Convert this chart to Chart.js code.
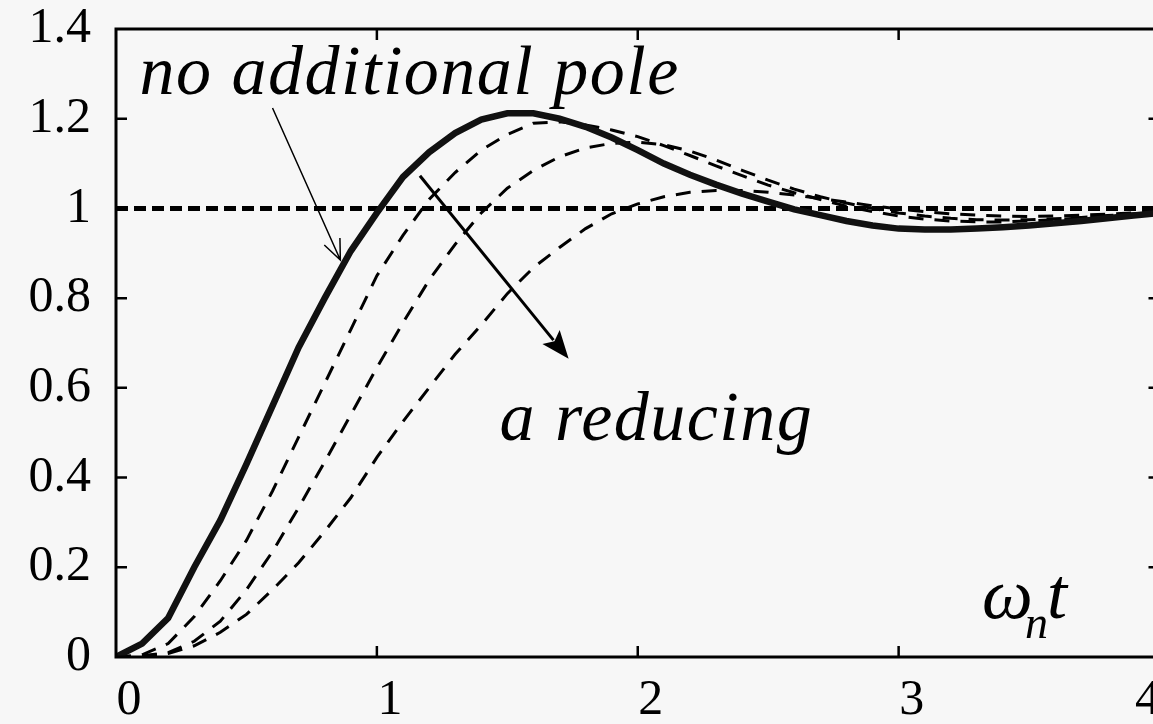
<!DOCTYPE html>
<html>
<head>
<meta charset="utf-8">
<script src="https://cdn.jsdelivr.net/npm/chart.js@4"></script>
<style>
  html, body { margin: 0; padding: 0; background: #f7f7f7; overflow: hidden; }
  #wrap { width: 1153px; height: 724px; overflow: hidden; position: relative; }
  canvas { display: block; position: absolute; left: 0; top: -16px; }
</style>
</head>
<body>
<div id="wrap"><canvas id="stepChart" width="1203" height="740"></canvas></div>
<script>
// time axis (omega_n * t)
const wnT = [0, 0.1, 0.2, 0.3, 0.4, 0.5, 0.6, 0.7, 0.8, 0.9,
             1.0, 1.1, 1.2, 1.3, 1.4, 1.5, 1.6, 1.7, 1.8, 1.9,
             2.0, 2.1, 2.2, 2.3, 2.4, 2.5, 2.6, 2.7, 2.8, 2.9,
             3.0, 3.1, 3.2, 3.3, 3.4, 3.5, 3.6, 3.7, 3.8, 3.9, 4.0];

// step response, no additional pole (solid)
const noPole = [0, 0.03, 0.087, 0.2, 0.305, 0.43, 0.56, 0.69, 0.80, 0.905,
                0.99, 1.07, 1.125, 1.168, 1.198, 1.212, 1.212, 1.2, 1.182, 1.158,
                1.13, 1.1, 1.075, 1.053, 1.033, 1.015, 0.998, 0.985, 0.972, 0.962,
                0.955, 0.953, 0.953, 0.955, 0.958, 0.962, 0.967, 0.972, 0.978, 0.984, 0.99];

// with additional pole, a reducing (dashed)
const poleA1 = [0, 0.005, 0.03, 0.09, 0.17, 0.26, 0.37, 0.49, 0.61, 0.73,
                0.85, 0.94, 1.02, 1.08, 1.13, 1.165, 1.19, 1.193, 1.186, 1.175,
                1.16, 1.14, 1.118, 1.095, 1.073, 1.052, 1.035, 1.02, 1.005, 0.993,
                0.983, 0.976, 0.972, 0.97, 0.97, 0.972, 0.975, 0.979, 0.983, 0.987, 0.99];
const poleA2 = [0, 0.002, 0.01, 0.035, 0.08, 0.15, 0.235, 0.333, 0.435, 0.54,
                0.645, 0.745, 0.84, 0.92, 0.99, 1.045, 1.085, 1.115, 1.135, 1.145,
                1.148, 1.142, 1.128, 1.108, 1.085, 1.063, 1.043, 1.026, 1.012, 1.0,
                0.99, 0.983, 0.978, 0.975, 0.974, 0.975, 0.977, 0.98, 0.984, 0.988, 0.992];
const poleA3 = [0, 0.002, 0.008, 0.025, 0.055, 0.095, 0.15, 0.21, 0.28, 0.355,
                0.445, 0.525, 0.60, 0.675, 0.74, 0.81, 0.868, 0.913, 0.955, 0.988,
                1.01, 1.026, 1.036, 1.04, 1.04, 1.036, 1.03, 1.022, 1.014, 1.006,
                0.999, 0.993, 0.988, 0.985, 0.983, 0.982, 0.983, 0.985, 0.987, 0.99, 0.993];

// steady state reference
const refX = [0, 4];
const refY = [1, 1];

// last label carries a trailing em space so its visible glyph sits left of the cut edge
const xTickLabels = ['0', '1', '2', '3', '4\u2003'];
const yTickLabels = ['0', '0.2', '0.4', '0.6', '0.8', '1', '1.2', '1.4'];

const toPoints = (xs, ys) => xs.map((x, i) => ({ x: x, y: ys[i] }));

// annotation placement in data units
const notes = {
  noPoleText: { x: 0.09, y: 1.255, text: 'no additional pole' },
  reduceText: { x: 1.47, y: 0.483, text: 'a reducing' },
  axisText: { x: 3.32, y: 0.087 },
  thinArrow: { x0: 0.60, y0: 1.224, x1: 0.86, y1: 0.885 },
  boldArrow: { x0: 1.165, y0: 1.073, x1: 1.735, y1: 0.665 }
};

const serif = '"Liberation Serif", "Times New Roman", serif';

const framePlugin = {
  id: 'frame',
  afterDatasetsDraw(chart) {
    const { ctx, chartArea: a, scales } = chart;
    const xs = scales.x, ys = scales.y;
    const tk = 11;
    ctx.save();
    ctx.strokeStyle = '#000';
    ctx.lineWidth = 3;
    ctx.strokeRect(a.left, a.top, a.right - a.left, a.bottom - a.top);
    ctx.lineWidth = 2.5;
    ctx.beginPath();
    for (let v = 1; v < 4; v++) {
      const px = xs.getPixelForValue(v);
      ctx.moveTo(px, a.bottom); ctx.lineTo(px, a.bottom - tk);
      ctx.moveTo(px, a.top); ctx.lineTo(px, a.top + tk);
    }
    for (let i = 1; i < 7; i++) {
      const py = ys.getPixelForValue(i * 0.2);
      ctx.moveTo(a.left, py); ctx.lineTo(a.left + tk, py);
      ctx.moveTo(a.right, py); ctx.lineTo(a.right - tk, py);
    }
    ctx.stroke();

    // text labels
    ctx.fillStyle = '#000';
    ctx.textBaseline = 'alphabetic';
    ctx.textAlign = 'left';
    ctx.font = 'italic 70px ' + serif;
    ctx.letterSpacing = '1.5px';
    let n = notes.noPoleText;
    ctx.fillText(n.text, xs.getPixelForValue(n.x), ys.getPixelForValue(n.y));
    n = notes.reduceText;
    ctx.fillText(n.text, xs.getPixelForValue(n.x), ys.getPixelForValue(n.y));
    ctx.letterSpacing = '0px';

    const ax = xs.getPixelForValue(notes.axisText.x);
    const ay = ys.getPixelForValue(notes.axisText.y);
    ctx.font = 'italic 72px ' + serif;
    ctx.fillText('ω', ax, ay);
    const wW = ctx.measureText('ω').width;
    ctx.font = 'italic 46px ' + serif;
    ctx.fillText('n', ax + wW - 8, ay + 20);
    ctx.font = 'italic 72px ' + serif;
    ctx.fillText('t', ax + wW + 14, ay);

    // thin arrow with open head
    let r = notes.thinArrow;
    let x0 = xs.getPixelForValue(r.x0), y0 = ys.getPixelForValue(r.y0);
    let x1 = xs.getPixelForValue(r.x1), y1 = ys.getPixelForValue(r.y1);
    let ang = Math.atan2(y1 - y0, x1 - x0);
    ctx.lineWidth = 1.5;
    ctx.beginPath();
    ctx.moveTo(x0, y0); ctx.lineTo(x1, y1);
    ctx.moveTo(x1 - 22 * Math.cos(ang - 0.4), y1 - 22 * Math.sin(ang - 0.4));
    ctx.lineTo(x1, y1);
    ctx.lineTo(x1 - 22 * Math.cos(ang + 0.4), y1 - 22 * Math.sin(ang + 0.4));
    ctx.stroke();

    // bold arrow with filled head
    r = notes.boldArrow;
    x0 = xs.getPixelForValue(r.x0); y0 = ys.getPixelForValue(r.y0);
    x1 = xs.getPixelForValue(r.x1); y1 = ys.getPixelForValue(r.y1);
    ang = Math.atan2(y1 - y0, x1 - x0);
    const hl = 30;
    ctx.lineWidth = 3;
    ctx.beginPath();
    ctx.moveTo(x0, y0);
    ctx.lineTo(x1 - hl * 0.8 * Math.cos(ang), y1 - hl * 0.8 * Math.sin(ang));
    ctx.stroke();
    ctx.beginPath();
    ctx.moveTo(x1, y1);
    ctx.lineTo(x1 - hl * Math.cos(ang - 0.38), y1 - hl * Math.sin(ang - 0.38));
    ctx.lineTo(x1 - hl * 0.75 * Math.cos(ang), y1 - hl * 0.75 * Math.sin(ang));
    ctx.lineTo(x1 - hl * Math.cos(ang + 0.38), y1 - hl * Math.sin(ang + 0.38));
    ctx.closePath();
    ctx.fill();
    ctx.restore();
  }
};

const dashedStyle = { borderColor: '#000', borderWidth: 3, borderDash: [15, 11], pointRadius: 0, tension: 0, fill: false };

new Chart(document.getElementById('stepChart').getContext('2d'), {
  type: 'line',
  data: {
    datasets: [
      Object.assign({ label: 'a3', data: toPoints(wnT, poleA3), order: 4 }, dashedStyle),
      Object.assign({ label: 'a2', data: toPoints(wnT, poleA2), order: 3 }, dashedStyle),
      Object.assign({ label: 'a1', data: toPoints(wnT, poleA1), order: 2 }, dashedStyle),
      { label: 'steady', data: toPoints(refX, refY), borderColor: '#000', borderWidth: 5,
        borderDash: [12, 6], pointRadius: 0, order: 1 },
      { label: 'no additional pole', data: toPoints(wnT, noPole), borderColor: '#111',
        borderWidth: 6.5, pointRadius: 0, tension: 0, order: 0 }
    ]
  },
  options: {
    responsive: false,
    animation: false,
    layout: { padding: { top: 0, right: 0, left: 0, bottom: 0 } },
    plugins: { legend: { display: false }, tooltip: { enabled: false } },
    scales: {
      x: {
        type: 'linear', min: 0, max: 4,
        grid: { display: false }, border: { display: false },
        afterFit: s => { s.height = 67; },
        ticks: {
          stepSize: 1, padding: 6, labelOffset: 13, color: '#000',
          font: { family: serif, size: 50 },
          callback: v => xTickLabels[Math.round(v)]
        }
      },
      y: {
        min: 0, max: 1.4,
        grid: { display: false }, border: { display: false },
        afterFit: s => { s.width = 116; },
        ticks: {
          stepSize: 0.2, padding: 17, color: '#000',
          font: { family: serif, size: 50, lineHeight: 1.12 },
          callback: v => yTickLabels[Math.round(v / 0.2)]
        }
      }
    }
  },
  plugins: [framePlugin]
});
</script>
</body>
</html>
